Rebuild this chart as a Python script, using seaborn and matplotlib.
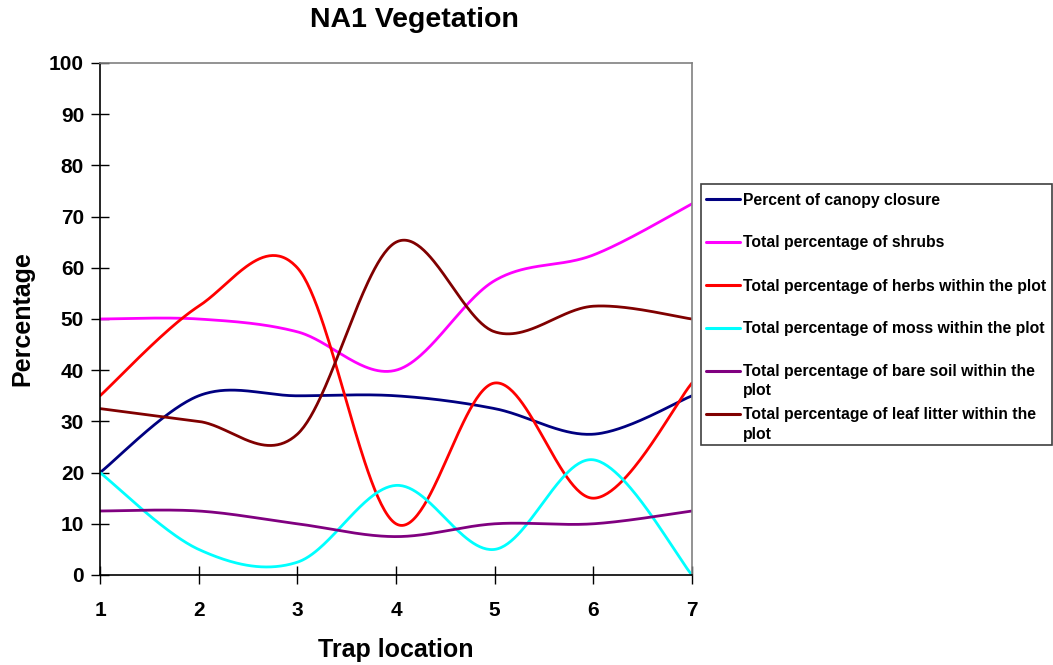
import numpy as np
import pandas as pd
import seaborn as sns
import matplotlib
matplotlib.use("Agg")
import matplotlib.pyplot as plt
from matplotlib.lines import Line2D
from matplotlib.patches import Rectangle

traps = [1, 2, 3, 4, 5, 6, 7]
canopy = [20, 35, 35, 35, 32.5, 27.5, 35]
shrubs = [50, 50, 47.5, 40, 57.5, 62.5, 72.5]
herbs = [35, 52.5, 60, 10, 37.5, 15, 37.5]
moss = [20, 5, 2.5, 17.5, 5, 22.5, 0]
bare_soil = [12.5, 12.5, 10, 7.5, 10, 10, 12.5]
leaf_litter = [32.5, 30, 27.5, 65, 47.5, 52.5, 50]

series_names = [
    "Percent of canopy closure",
    "Total percentage of shrubs",
    "Total percentage of herbs within the plot",
    "Total percentage of moss within the plot",
    "Total percentage of bare soil within the\nplot",
    "Total percentage of leaf litter within the\nplot",
]
series_values = [canopy, shrubs, herbs, moss, bare_soil, leaf_litter]
colors = ["#000080", "#FF00FF", "#FF0000", "#00FFFF", "#800080", "#800000"]

sns.set_style("white")
plt.rcParams["font.family"] = ["Liberation Sans", "DejaVu Sans"]
plt.rcParams["font.weight"] = "bold"
plt.rcParams["text.color"] = "black"


def smooth(xs, ys, n=60):
    xs = np.asarray(xs, float)
    ys = np.asarray(ys, float)
    m = len(xs)
    ox, oy = [], []
    for i in range(m - 1):
        p0 = i - 1 if i > 0 else 0
        p3 = i + 2 if i + 2 < m else m - 1
        mx0 = (xs[i + 1] - xs[p0]) / 2
        my0 = (ys[i + 1] - ys[p0]) / 2
        mx1 = (xs[p3] - xs[i]) / 2
        my1 = (ys[p3] - ys[i]) / 2
        t = np.linspace(0, 1, n, endpoint=(i == m - 2))
        h00 = 2 * t**3 - 3 * t**2 + 1
        h10 = t**3 - 2 * t**2 + t
        h01 = -2 * t**3 + 3 * t**2
        h11 = t**3 - t**2
        ox.extend(h00 * xs[i] + h10 * mx0 + h01 * xs[i + 1] + h11 * mx1)
        oy.extend(h00 * ys[i] + h10 * my0 + h01 * ys[i + 1] + h11 * my1)
    return ox, oy


rows = []
for name, vals in zip(series_names, series_values):
    sx, sy = smooth(traps, vals)
    for k, (a, b) in enumerate(zip(sx, sy)):
        rows.append({"series": name, "x": a, "y": b, "order": k})
df = pd.DataFrame(rows)

W, H = 1053, 665
fig = plt.figure(figsize=(W / 100, H / 100), dpi=100)
ax = fig.add_axes([100 / W, 1 - 575 / H, 592 / W, 512 / H])

sns.lineplot(data=df, x="x", y="y", hue="series", units="series",
             palette=dict(zip(series_names, colors)), sort=False,
             estimator=None, legend=False, linewidth=2.0, ax=ax)

ax.set_xlim(1, 7)
ax.set_ylim(0, 100)
ax.set_xticks(traps)
ax.set_xticklabels([str(t) for t in traps])
ax.set_yticks(range(0, 101, 10))
ax.tick_params(axis="both", direction="inout", length=13, width=1,
               colors="black", labelcolor="black", labelsize=15,
               bottom=True, left=True, top=False, right=False)
ax.tick_params(axis="x", pad=12)
ax.tick_params(axis="y", pad=5)
for lab in ax.get_xticklabels() + ax.get_yticklabels():
    lab.set_fontweight("bold")
ax.set_xlabel("")
ax.set_ylabel("")
for s in ["left", "bottom"]:
    ax.spines[s].set_color("black")
    ax.spines[s].set_linewidth(1.2)
for s in ["top", "right"]:
    ax.spines[s].set_color("#808080")
    ax.spines[s].set_linewidth(1.2)
    ax.spines[s].set_visible(True)

fig.text(414 / W, 1 - 20 / H, "NA1 Vegetation", ha="center", va="center",
         fontsize=20.5, fontweight="bold", color="black")
fig.text(396 / W, 1 - 650 / H, "Trap location", ha="center", va="center",
         fontsize=18, fontweight="bold", color="black")
fig.text(22 / W, 1 - 319 / H, "Percentage", ha="center", va="center",
         rotation=90, fontsize=18, fontweight="bold", color="black")

# legend box
fig.add_artist(Rectangle((701 / W, 1 - 445 / H), 351 / W, 261 / H,
                         transform=fig.transFigure, fill=False,
                         edgecolor="#404040", linewidth=1.2))
ys_pix = [199, 242, 285, 328, 371, 414]
for name, col, yp in zip(series_names, colors, ys_pix):
    fig.add_artist(Line2D([706 / W, 740 / W], [1 - yp / H, 1 - yp / H],
                          transform=fig.transFigure, color=col, linewidth=2.2))
    for k, line in enumerate(name.split("\n")):
        fig.text(743 / W, 1 - (yp + 5.5 + 19 * k) / H, line, ha="left",
                 va="baseline", fontsize=11.3, fontweight="bold",
                 color="black")

fig.savefig("out.png", dpi=100, facecolor="white")
